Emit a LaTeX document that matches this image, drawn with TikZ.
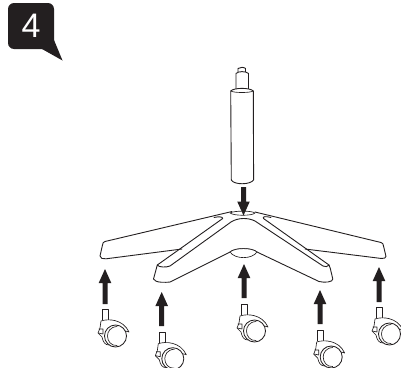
\documentclass[tikz,border=0pt]{standalone}
\usepackage{fontspec}
\setmainfont{Liberation Sans}
\definecolor{ink}{HTML}{231F20}
\tikzset{
  ln/.style={draw=ink,line width=.9pt,line join=round,line cap=round,fill=white},
  thin ln/.style={draw=ink,line width=.65pt,line join=round,line cap=round},
  caster/.pic={
    \draw[thin ln,fill=white] (-3,11) -- (-3,0.5) -- (3,0.5) -- (3,11);
    \draw[thin ln,fill=white] (-4,12) .. controls (3,9.5) and (18,10) .. (24,23)
      .. controls (22,22.5) and (21,22) .. (20,22) -- (4,36) .. controls (0,36) and (-2,33) .. (-3,28)
      -- (-7,24) -- (-5,19) -- cycle;
    \draw[thin ln] (-6,20) -- (-2,20) -- (-2,25) -- (-6.5,24);
    \draw[thin ln,fill=white,line width=.85pt] (10.5,27) circle (11);
    \draw[thin ln] (12,17.5) .. controls (5,18) and (2.5,23) .. (2.5,27)
      .. controls (2.5,32) and (6,37) .. (12,36.5);
  },
  uparrow/.pic={
    \fill[ink] (0,0) -- (6.3,14) -- (2.5,14) -- (2.5,#1) -- (-2.5,#1) -- (-2.5,14) -- (-6.3,14) -- cycle;
  }
}
\begin{document}
\begin{tikzpicture}[x=1pt,y=-1pt]
\useasboundingbox (0,0) rectangle (401,367);
% badge
\fill[ink,rounded corners=6pt] (8,3) -- (54,3) -- (54,49) -- (8,49) -- cycle;
\fill[ink] (42,49) -- (54,40) -- (62.5,60.5) -- cycle;
\node (badge) [text=white,font=\fontsize{34}{34}\selectfont,inner sep=0pt] at (31,26) {4};
% column
\draw[ln] (238,72) -- (238,68.5) .. controls (240,67) and (244,67) .. (245.5,68.5) -- (245.5,72);
\draw[ln] (236,90) -- (236,73.5) .. controls (238,71) and (246,71) .. (248.5,73.5) -- (248.5,90);
\draw[ln] (230.7,91) .. controls (234,87.5) and (250,87.5) .. (253.3,91)
  -- (253.6,180) .. controls (250,185) and (234,185) .. (231.3,180) -- cycle;
\draw[thin ln] (230.7,91) .. controls (234,93) and (250,93) .. (253.3,91);
% left arm
\draw[ln] (232,211.5) -- (105,241.5) .. controls (103,242) and (103,243) .. (102.5,245)
  -- (100,256) .. controls (100,258.5) and (103,259) .. (106,258.8) -- (182,249);
% right arm
\draw[ln] (255,212) -- (381,242.5) .. controls (383,243) and (383,244) .. (383.5,246)
  -- (386,256.5) .. controls (386.5,258) and (384,258.5) .. (380,258.3) -- (305,249);
% hub
\draw[thin ln] (230,213) .. controls (234,210.5) and (252,210.5) .. (255,213)
  .. controls (252,216) and (234,216) .. (230,213) -- cycle;
% front blade
\draw[ln] (170,266) -- (231,222) .. controls (238,217.5) and (248,217.5) .. (255,221) -- (323,266)
  .. controls (325,267) and (328,267) .. (329,265)
  .. controls (329.8,266) and (330,267) .. (330.3,268.5)
  -- (332.8,279) .. controls (333,282) and (325,283) .. (319,281.5)
  -- (257,252) .. controls (252,247.5) and (235,247.5) .. (230,252)
  -- (170,282) .. controls (166,282.5) and (155,283) .. (153.5,279)
  -- (157.3,265) .. controls (159,267.5) and (166,267.5) .. (170,266) -- cycle;
% left groove edge with hook
\draw[ln,fill=none] (214,217.5) .. controls (218,216.5) and (223,216.5) .. (222.7,218.5)
  -- (157.3,265);
% right groove edge with hook
\draw[ln,fill=none] (271,217.5) .. controls (266,216) and (262,216.5) .. (263.5,218.5)
  -- (329,265);
% dome
\draw[thin ln,fill=white] (230,252) .. controls (235,247.5) and (252,247.5) .. (257,252)
  .. controls (252,259.5) and (235,259.5) .. (230,252) -- cycle;
% down arrow
\fill[ink] (243.5,215.5) -- (237.2,201.5) -- (241,201.5) -- (241,187) -- (246,187) -- (246,201.5) -- (249.8,201.5) -- cycle;
% up arrows
\pic at (105,269) {uparrow=35};
\pic at (161.7,292) {uparrow=34};
\pic at (244,264) {uparrow=34};
\pic at (320,290) {uparrow=34};
\pic at (379,267) {uparrow=35};
% casters
\pic at (105,309) {caster};
\pic at (162.3,331.7) {caster};
\pic at (244,304) {caster};
\pic at (320.7,330) {caster};
\pic at (379,307) {caster};
\end{tikzpicture}
\end{document}
